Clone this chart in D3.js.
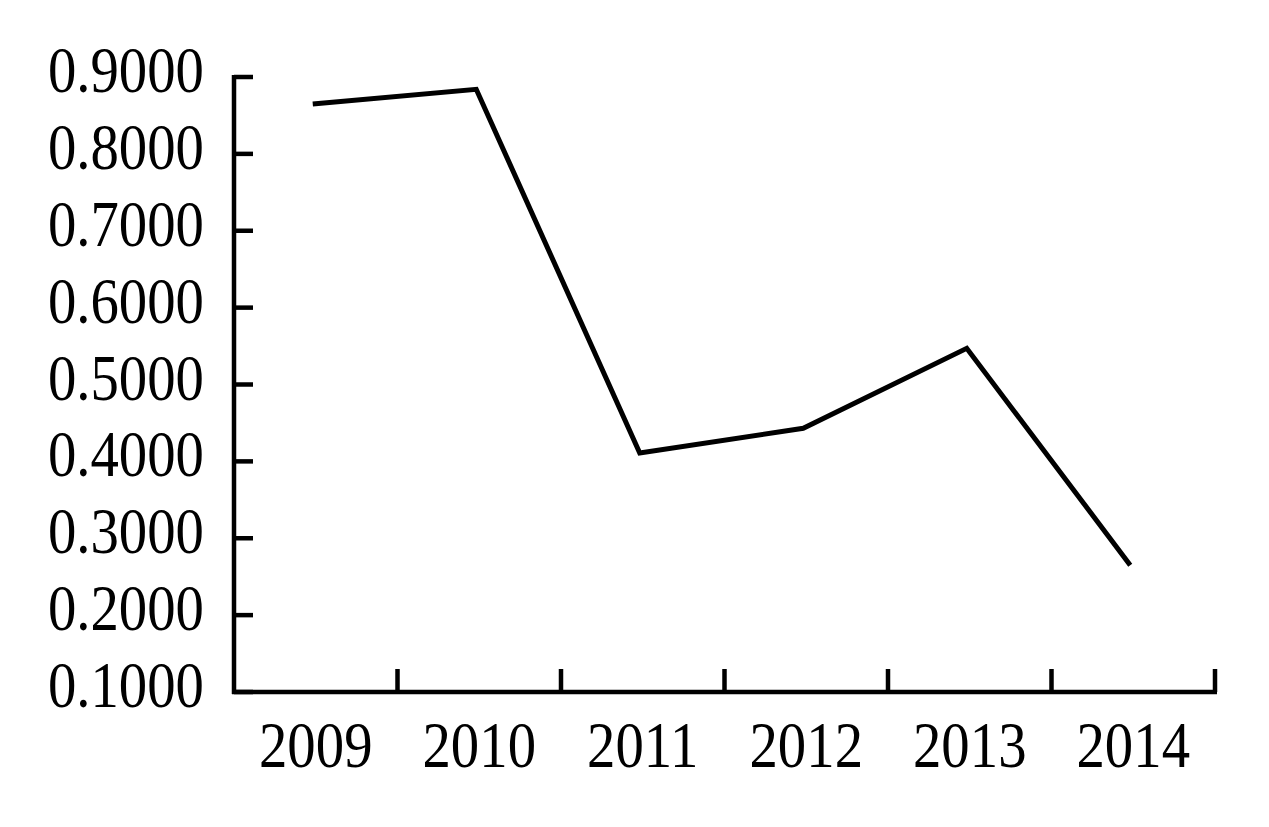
<!DOCTYPE html>
<html>
<head>
<meta charset="utf-8">
<script src="https://cdn.jsdelivr.net/npm/d3@7"></script>
<style>
  html, body { margin: 0; padding: 0; background: #fff; }
  svg { display: block; }
  text { font-family: "Liberation Serif", "Times New Roman", serif; fill: #000; }
</style>
</head>
<body>
<svg id="chart" width="1269" height="827"></svg>
<script>
const years = ["2009", "2010", "2011", "2012", "2013", "2014"];
const values = [0.865, 0.884, 0.411, 0.443, 0.547, 0.265];
const yTicks = [0.1, 0.2, 0.3, 0.4, 0.5, 0.6, 0.7, 0.8, 0.9];

const svg = d3.select("#chart");
const margin = { left: 234, right: 54, top: 77, bottom: 135 };
const W = 1269, H = 827;
const FS = 66, SX = 0.86;

const x = d3.scaleBand().domain(years).range([margin.left, W - margin.right]).padding(0);
const y = d3.scaleLinear().domain([0.1, 0.9]).range([H - margin.bottom, margin.top]);

// Y axis line
svg.append("line")
  .attr("x1", margin.left).attr("x2", margin.left)
  .attr("y1", y(0.9) - 2).attr("y2", y(0.1) + 2)
  .attr("stroke", "#000").attr("stroke-width", 4.5);
// inward ticks
svg.append("g").selectAll("line").data(yTicks).join("line")
  .attr("x1", margin.left).attr("x2", margin.left + 19)
  .attr("y1", d => y(d)).attr("y2", d => y(d))
  .attr("stroke", "#000").attr("stroke-width", 4.5);

const fmt = d3.format(".4f");
svg.append("g").selectAll("text").data(yTicks).join("text")
  .attr("transform", d => `translate(204,${y(d) + 15}) scale(${SX},1)`)
  .attr("text-anchor", "end")
  .style("font-size", FS + "px")
  .text(d => fmt(d));

// X axis
const baseY = y(0.1);
svg.append("line")
  .attr("x1", margin.left - 2).attr("x2", W - margin.right + 2)
  .attr("y1", baseY).attr("y2", baseY)
  .attr("stroke", "#000").attr("stroke-width", 4.5);
const boundaries = years.map(d => x(d) + x.bandwidth());
svg.append("g").selectAll("line").data(boundaries).join("line")
  .attr("x1", d => d).attr("x2", d => d)
  .attr("y1", baseY).attr("y2", baseY - 23)
  .attr("stroke", "#000").attr("stroke-width", 4.5);
svg.append("g").selectAll("text").data(years).join("text")
  .attr("transform", d => `translate(${x(d) + x.bandwidth() / 2},${baseY + 75}) scale(${SX},1)`)
  .attr("text-anchor", "middle")
  .style("font-size", FS + "px")
  .text(d => d);

// Line
const line = d3.line()
  .x((d, i) => x(years[i]) + x.bandwidth() / 2 - 3)
  .y(d => y(d));
svg.append("path")
  .datum(values)
  .attr("d", line)
  .attr("fill", "none")
  .attr("stroke", "#000")
  .attr("stroke-width", 5)
  .attr("stroke-linejoin", "miter");
</script>
</body>
</html>
